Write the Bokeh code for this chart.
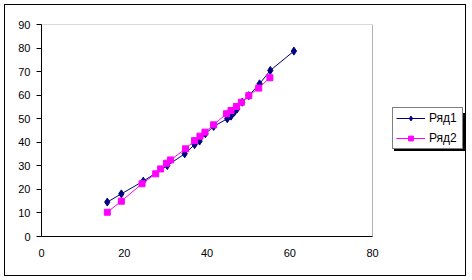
from bokeh.plotting import figure
from bokeh.models import FixedTicker, Legend, LegendItem, Range1d, BoxAnnotation
from bokeh.embed import file_html
from bokeh.resources import INLINE

x1 = [15.9, 19.3, 24.6, 30.4, 34.6, 37.0, 38.2, 39.6, 41.6, 44.9, 45.8, 46.6, 47.3, 48.5, 50.1, 52.7, 55.3, 61.0]
y1 = [14.6, 18.1, 23.5, 30.1, 35.1, 39.0, 40.5, 43.6, 46.7, 50.0, 51.1, 52.8, 54.2, 57.0, 59.8, 64.8, 70.5, 78.7]
x2 = [15.9, 19.3, 24.3, 27.6, 28.8, 30.2, 31.2, 34.8, 37.0, 38.3, 39.5, 41.6, 44.7, 45.8, 47.1, 48.3, 50.1, 52.5, 55.2]
y2 = [10.3, 15.0, 22.4, 26.6, 28.7, 31.1, 32.5, 37.2, 40.7, 42.6, 44.3, 47.4, 52.1, 53.5, 55.2, 57.0, 59.8, 63.0, 67.4]
names = ["Ряд1", "Ряд2"]
x_ticks = [0, 20, 40, 60, 80]
y_ticks = [0, 10, 20, 30, 40, 50, 60, 70, 80, 90]
X_MIN, X_MAX = 0, 80
Y_MIN, Y_MAX = 0, 90

FONT = "Liberation Sans"

W, H = 460, 270
LEFT, TOP, BOTTOM = 36, 19, 39
PLOT_W = 331                      # width of the plotted 0..80 area in px
frame_w = W - LEFT
x_end = X_MIN + (X_MAX - X_MIN) * frame_w / PLOT_W   # extra room for the legend

p = figure(width=W, height=H, output_backend="svg", toolbar_location=None,
           x_range=Range1d(X_MIN, x_end), y_range=Range1d(Y_MIN, Y_MAX),
           min_border_left=LEFT, min_border_right=0, min_border_top=TOP, min_border_bottom=BOTTOM)
p.margin = (5, 7, 5, 5)
p.styles = {"outline": "1px solid black"}
p.background_fill_color = "white"
p.border_fill_color = "white"
p.outline_line_color = None
p.xgrid.visible = False
p.ygrid.visible = False

for ax in (p.xaxis[0], p.yaxis[0]):
    ax.major_label_text_font = FONT
    ax.major_label_text_font_size = "11px"
    ax.major_label_text_color = "black"
    ax.axis_line_color = "black"
    ax.major_tick_line_color = "black"
    ax.minor_tick_line_color = None
    ax.major_tick_in = 0

p.xaxis[0].ticker = FixedTicker(ticks=x_ticks)
p.xaxis[0].bounds = (X_MIN, X_MAX)
p.yaxis[0].ticker = FixedTicker(ticks=y_ticks)
p.xaxis[0].major_tick_out = 0
p.xaxis[0].major_label_standoff = 12
p.yaxis[0].major_tick_out = 5
p.yaxis[0].major_label_standoff = 6

# plot-area border
p.add_layout(BoxAnnotation(left=X_MIN, right=X_MAX, bottom=Y_MIN, top=Y_MAX,
                           fill_color=None, line_color="black", line_width=1))

l1 = p.line(x1, y1, line_color="#000080", line_width=1)
m1 = p.scatter(x1, y1, marker="diamond", size=8, fill_color="#000080", line_color="#000080")
l2 = p.line(x2, y2, line_color="#FF00FF", line_width=1)
m2 = p.scatter(x2, y2, marker="square", size=6, fill_color="#FF00FF", line_color="#FF00FF")


def make_legend(loc, shadow):
    labels = [" ", " "] if shadow else names
    lg = Legend(items=[LegendItem(label=labels[0], renderers=[l1, m1]),
                       LegendItem(label=labels[1], renderers=[l2, m2])],
                location=loc, orientation="vertical")
    lg.label_text_font = FONT
    lg.label_text_font_size = "12px"
    lg.label_text_color = "black"
    lg.glyph_width = 29
    lg.glyph_height = 12
    lg.label_height = 12
    lg.label_width = 30
    lg.label_standoff = 4
    lg.spacing = 6
    lg.padding = 3
    lg.margin = 0
    lg.border_line_color = "black"
    lg.border_line_width = 1
    lg.background_fill_alpha = 1
    lg.background_fill_color = "black" if shadow else "white"
    return lg


p.add_layout(make_legend((353, 85), True), "center")
p.add_layout(make_legend((351, 87), False), "center")

open("out.html", "w").write(file_html(p, INLINE))
